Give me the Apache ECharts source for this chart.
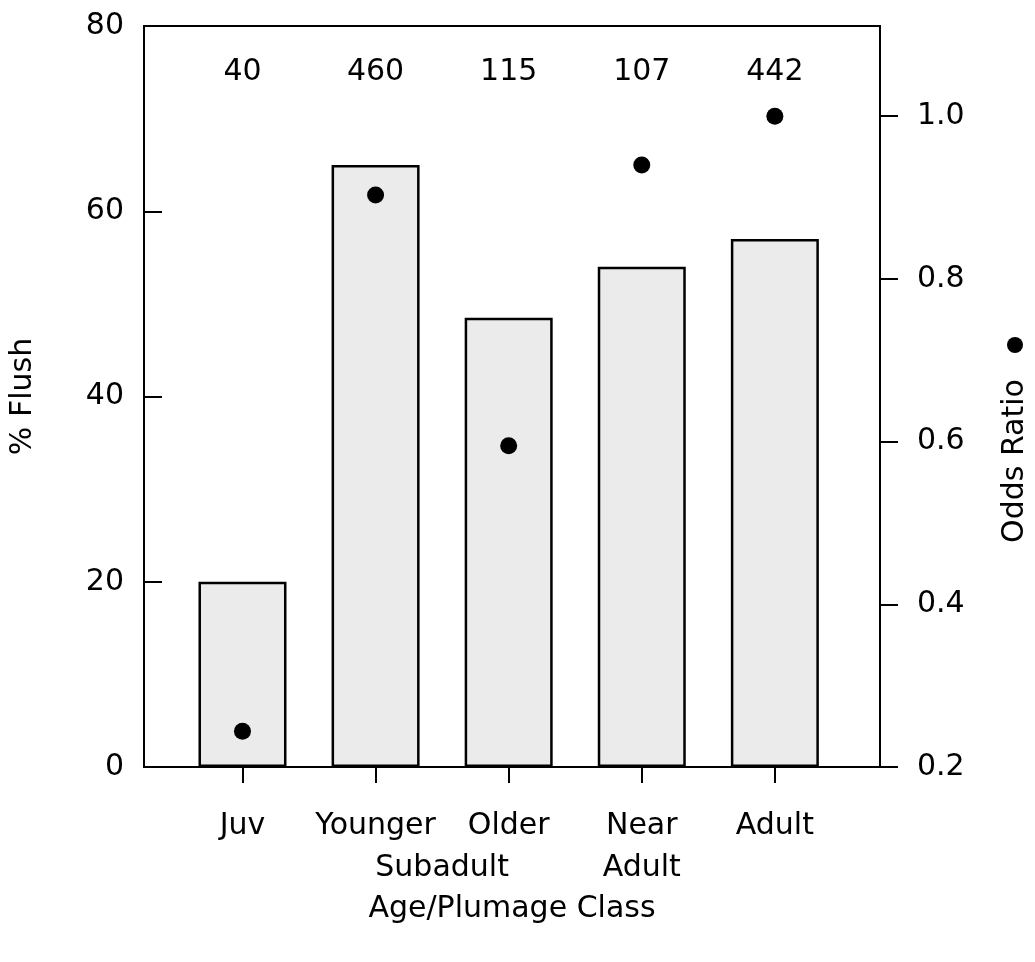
<!DOCTYPE html>
<html>
<head>
<meta charset="utf-8">
<script src="https://cdn.jsdelivr.net/npm/echarts@6/dist/echarts.min.js"></script>
<style>html,body{margin:0;padding:0;background:#fff}#c{width:1035px;height:962px}</style>
</head>
<body>
<div id="c"></div>
<script>
var categories = ['Juv', 'Younger', 'Older', 'Near\nAdult', 'Adult'];
var groupLabel = 'Subadult';           // spans Younger + Older
var pctFlush = [20, 65, 48.5, 54, 57];
var oddsRatio = [0.244, 0.903, 0.595, 0.94, 1.0];
var sampleSizes = [40, 460, 115, 107, 442];
var leftTicks = [0, 20, 40, 60, 80];
var rightTicks = [0.2, 0.4, 0.6, 0.8, 1.0];

var FONT = 'DejaVu Sans';
var FS = 30;
var idx = categories.map(function (_, i) { return i; });

var chart = echarts.init(document.getElementById('c'));
chart.setOption({
  animation: false,
  backgroundColor: '#fff',
  grid: { left: 143, right: 155, top: 26, bottom: 195, show: true, borderColor: '#000', borderWidth: 2, backgroundColor: 'transparent' },
  xAxis: {
    type: 'value', min: -0.74, max: 4.79,
    splitLine: { show: false },
    axisLine: { show: true, onZero: false, lineStyle: { color: '#000', width: 2 } },
    axisTick: { show: true, inside: false, length: 16, lineStyle: { color: '#000', width: 2 }, customValues: idx },
    axisLabel: {
      customValues: idx.concat([1.5]),
      margin: 38, color: '#000', fontFamily: FONT, fontSize: FS, lineHeight: 42,
      formatter: function (v) {
        if (Math.abs(v - 1.5) < 1e-6) return '\n' + groupLabel;
        return categories[Math.round(v)];
      }
    },
    name: 'Age/Plumage Class', nameLocation: 'middle', nameGap: 121,
    nameTextStyle: { color: '#000', fontFamily: FONT, fontSize: FS }
  },
  yAxis: [{
    type: 'value', min: 0, max: 80, interval: 20,
    splitLine: { show: false },
    axisLine: { show: true, onZero: false, lineStyle: { color: '#000', width: 2 } },
    axisTick: { show: true, inside: true, length: 18, lineStyle: { color: '#000', width: 2 }, customValues: leftTicks },
    axisLabel: { customValues: leftTicks, margin: 20, color: '#000', fontFamily: FONT, fontSize: FS },
    name: '% Flush', nameLocation: 'middle', nameGap: 106,
    nameTextStyle: { color: '#000', fontFamily: FONT, fontSize: FS }
  }, {
    type: 'value', min: 0.2, max: 1.1108, position: 'right',
    splitLine: { show: false },
    axisLine: { show: true, onZero: false, lineStyle: { color: '#000', width: 2 } },
    axisTick: { show: true, inside: false, length: 18, lineStyle: { color: '#000', width: 2 }, customValues: rightTicks },
    axisLabel: { customValues: rightTicks, margin: 37, color: '#000', fontFamily: FONT, fontSize: FS,
      formatter: function (v) { return v.toFixed(1); } }
  }],
  graphic: [{
    type: 'text', x: 1015, y: 461, rotation: Math.PI / 2,
    style: { text: 'Odds Ratio', font: FS + 'px "' + FONT + '"', fill: '#000', align: 'center', verticalAlign: 'middle' }
  }, {
    type: 'circle', shape: { cx: 1015, cy: 345, r: 8 }, style: { fill: '#000' }
  }],
  series: [{
    type: 'bar', yAxisIndex: 0, barWidth: 88,
    data: pctFlush.map(function (v, i) { return [i, v]; }),
    itemStyle: { color: '#ebebeb', borderColor: '#000', borderWidth: 2.5 },
    z: 2
  }, {
    type: 'scatter', yAxisIndex: 1, symbol: 'circle', symbolSize: 17,
    data: oddsRatio.map(function (v, i) { return [i, v]; }),
    itemStyle: { color: '#000', opacity: 1 }, z: 5
  }, {
    type: 'scatter', yAxisIndex: 0, symbolSize: 0, silent: true,
    data: sampleSizes.map(function (v, i) { return [i, 75, v]; }),
    itemStyle: { opacity: 1 },
    label: { show: true, position: 'inside', color: '#000', opacity: 1, fontFamily: FONT, fontSize: FS,
      formatter: function (p) { return String(p.value[2]); } }
  }]
});
</script>
</body>
</html>
